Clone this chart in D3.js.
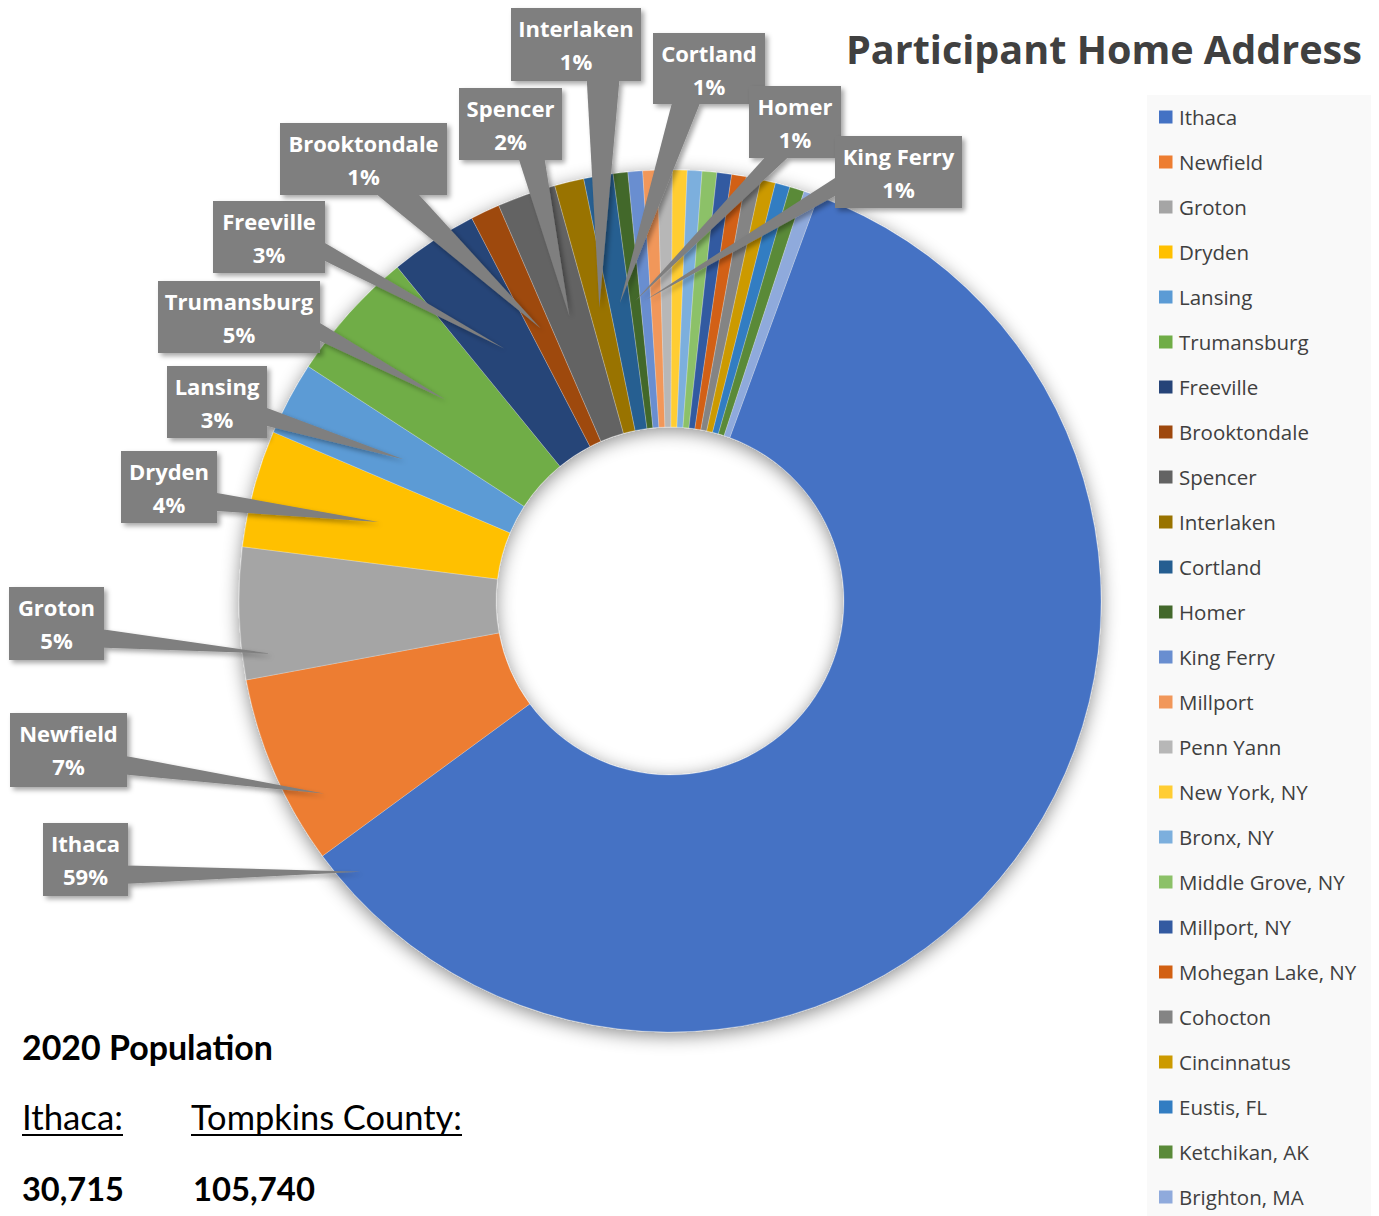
<!DOCTYPE html>
<html><head><meta charset="utf-8">
<script src="https://cdn.jsdelivr.net/npm/d3@7"></script>
<style>body{margin:0;background:#fff;} svg{display:block}</style>
</head><body>
<svg id="c" width="1379" height="1216"></svg>
<script>
// ---------- data ----------
const categories = ["Ithaca","Newfield","Groton","Dryden","Lansing","Trumansburg","Freeville","Brooktondale","Spencer","Interlaken","Cortland","Homer","King Ferry","Millport","Penn Yann","New York, NY","Bronx, NY","Middle Grove, NY","Millport, NY","Mohegan Lake, NY","Cohocton","Cincinnatus","Eustis, FL","Ketchikan, AK","Brighton, MA"];
const participants = [108,13,9,8,5,9,6,2,4,2,2,1,1,1,1,1,1,1,1,1,1,1,1,1,1];
const sliceColors = ["#4472C4","#ED7D31","#A5A5A5","#FFC000","#5B9BD5","#70AD47","#264478","#9E480E","#636363","#997300","#255E91","#43682B","#698ED0","#F1975A","#B7B7B7","#FFCD33","#7CAFDD","#8CC168","#335AA1","#D26012","#848484","#CC9A00","#327DC2","#5A8A39","#8FAADC"];
const labeledCategories = categories.slice(0, 13);
const chartTitle = "Participant Home Address";
const populationHeading = "2020 Population";
const populationPlaces = ["Ithaca:", "Tompkins County:"];
const populationValues = [30715, 105740];

// ---------- layout (callout boxes: left, top, width, height; tip: fraction along slice, radius) ----------
const labelBoxes = [
  [43,823,85,73],[10,713,117,74],[9,587,95,73],[121,451,96,72],[167,366,100,72],
  [158,281,162,72],[213,201,112,72],[280,123,167,72],[459,88,103,72],[511,8,130,73],
  [653,33,112,71],[749,86,92,72],[835,136,127,72]
];
const labelTips = [
  [0.977,411],[0.28,396],[0.17,402],[0.5,302],[0.5,302],[0.5,302],[0.5,302],
  [0.5,302],[0.5,302],[0.5,302],[0.5,302],[0.5,302],[0.5,302]
];

const svg = d3.select("#c");
const defs = svg.append("defs");
const f1 = defs.append("filter").attr("id","ringShadow").attr("x","-20%").attr("y","-20%").attr("width","140%").attr("height","140%");
f1.append("feDropShadow").attr("dx",0).attr("dy",4).attr("stdDeviation",9).attr("flood-color","#000").attr("flood-opacity",0.45);
const f2 = defs.append("filter").attr("id","boxShadow").attr("x","-20%").attr("y","-20%").attr("width","140%").attr("height","140%");
f2.append("feDropShadow").attr("dx",3).attr("dy",3).attr("stdDeviation",2.5).attr("flood-color","#000").attr("flood-opacity",0.35);

const cx = 670, cy = 601, rOuter = 431, rInner = 174;
const startAngle = 20.1 * Math.PI / 180;
const total = d3.sum(participants);
const data = categories.map((c,i) => ({name:c, value:participants[i]}));
const pie = d3.pie().sort(null).value(d => d.value).startAngle(startAngle).endAngle(startAngle + 2*Math.PI);
const arcs = pie(data);
const arc = d3.arc().innerRadius(rInner).outerRadius(rOuter);
const color = d3.scaleOrdinal().domain(categories).range(sliceColors);

// legend background
svg.append("rect").attr("x",1147).attr("y",95).attr("width",224).attr("height",1130).attr("fill","#f9f9f9");

// donut
const ring = svg.append("g").attr("transform",`translate(${cx},${cy})`).attr("filter","url(#ringShadow)");
ring.selectAll("path").data(arcs).join("path")
  .attr("d", arc).attr("fill", d => color(d.data.name))
  .attr("stroke","#ffffff").attr("stroke-width",0.4).attr("stroke-opacity",0.6);

// callouts
const pct = d3.format(".0%");
const callouts = svg.append("g");
labeledCategories.forEach((name,i) => {
  const a = arcs[i];
  const [L,T,W,H] = labelBoxes[i];
  const [frac, rr] = labelTips[i];
  const ang = a.startAngle + frac*(a.endAngle - a.startAngle);
  const tx = cx + rr*Math.sin(ang), ty = cy - rr*Math.cos(ang);
  const bx = L + W/2, by = T + H/2;
  const dxn = (tx-bx)/W, dyn = (ty-by)/H;
  let p1, p2;
  if (Math.abs(dyn) > Math.abs(dxn)) {
    const y = dyn > 0 ? T+H : T;
    const g = dxn > 0 ? [7,10] : [2,5];
    p1 = [L + W*g[0]/12, y]; p2 = [L + W*g[1]/12, y];
  } else {
    const x = dxn > 0 ? L+W : L;
    const g = dyn > 0 ? [7,10] : [2,5];
    p1 = [x, T + H*g[0]/12]; p2 = [x, T + H*g[1]/12];
  }
  const g = callouts.append("g").attr("filter","url(#boxShadow)");
  g.append("rect").attr("x",L).attr("y",T).attr("width",W).attr("height",H).attr("fill","#7f7f7f");
  g.append("path").attr("d",`M${p1[0]},${p1[1]}L${tx},${ty}L${p2[0]},${p2[1]}Z`).attr("fill","#7f7f7f");
  const t = callouts.append("g").attr("font-family","'Open Sans', sans-serif").attr("font-weight",700)
    .attr("font-size",22).attr("fill","#ffffff").attr("text-anchor","middle");
  t.append("text").attr("x",bx).attr("y",T+20).attr("dominant-baseline","central").text(name);
  t.append("text").attr("x",bx).attr("y",T+53).attr("dominant-baseline","central").text(pct(participants[i]/total));
});

// title
function fitWidth(sel, w) {
  const cur = sel.node().getComputedTextLength();
  const fs = parseFloat(sel.attr("font-size"));
  sel.attr("font-size", fs * w / cur);
}
const title = svg.append("text").attr("x",846).attr("y",64)
  .attr("font-family","'Open Sans', sans-serif").attr("font-weight",700).attr("font-size",40)
  .attr("fill","#404040").text(chartTitle);
fitWidth(title, 516);

// legend
const legend = svg.append("g");
categories.forEach((c,i) => {
  const y = 117 + 45*i;
  legend.append("rect").attr("x",1159).attr("y",y-6.5).attr("width",13.5).attr("height",13).attr("fill",color(c));
  legend.append("text").attr("x",1179).attr("y",y).attr("dominant-baseline","central")
    .attr("font-family","'Open Sans', sans-serif").attr("font-size",20.5).attr("fill","#404040").text(c);
});

// population note
const note = svg.append("g").attr("font-family","Lato, 'Open Sans', sans-serif").attr("fill","#000");
const h = note.append("text").attr("x",22).attr("y",1060).attr("font-weight",700).attr("font-size",32).text(populationHeading);
fitWidth(h, 251);
const placeX = [22, 191], placeW = [101, 271];
populationPlaces.forEach((p,i) => {
  const t = note.append("text").attr("x",placeX[i]).attr("y",1130).attr("font-size",32).text(p);
  fitWidth(t, placeW[i]);
  note.append("rect").attr("x",placeX[i]).attr("y",1134).attr("width",placeW[i]).attr("height",2).attr("fill","#000");
});
const numFmt = d3.format(",");
const numX = [22, 193], numW = [102, 122];
populationValues.forEach((v,i) => {
  const t = note.append("text").attr("x",numX[i]).attr("y",1201).attr("font-weight",700).attr("font-size",32).text(numFmt(v));
  fitWidth(t, numW[i]);
});
</script>
</body></html>
